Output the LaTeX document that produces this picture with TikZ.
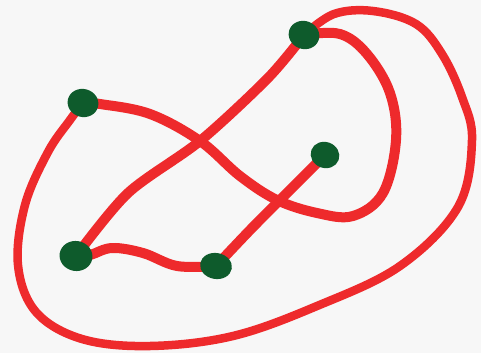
\documentclass[tikz,border=0pt]{standalone}
\usetikzlibrary{shapes.geometric}
\pgfdeclarelayer{bg}
\pgfsetlayers{bg,main}
\definecolor{pen}{HTML}{EE2A2C}
\definecolor{blob}{HTML}{0E5B2C}
\definecolor{paper}{HTML}{F7F7F7}
\begin{document}
\begin{tikzpicture}[x=1pt,y=-1pt,
  vertex/.style={ellipse,fill=blob,minimum width=31pt,minimum height=28pt,inner sep=0pt},
  stroke/.style={draw=pen,line width=10pt,line cap=round,line join=round},
  thin stroke/.style={draw=pen,line width=8.5pt,line cap=round,line join=round}]
\useasboundingbox (0,0) rectangle (481,353);
\node[vertex,rotate=-15] (A) at (83,103) {};
\node[vertex,rotate=-20] (B) at (304,35) {};
\node[vertex,rotate=-20,minimum width=29pt,minimum height=26pt] (C) at (325,155) {};
\node[vertex,rotate=-10,minimum width=33pt,minimum height=30pt] (D) at (76,256) {};
\node[vertex,rotate=-10,minimum width=32pt,minimum height=26pt] (E) at (216,266) {};
\begin{pgfonlayer}{bg}
\fill[paper] (0,0) rectangle (481,353);
% outer loop A -> B
\draw[thin stroke] plot[smooth,tension=0.6] coordinates {(A.center) (70,120) (48,152) (25,205) (18,265) (36,312) (82,339) (150,346) (233,336) (317,306) (400,266) (458,207) (472,140) (462,97) (442,54) (416,24) (373,11) (334,14) (B.center)};
% inner loop A -> B
\draw[stroke] plot[smooth,tension=0.6] coordinates {(A.center) (100,104) (150,114) (200,141) (240,176) (277,200) (317,213) (353,216) (383,193) (396,140) (390,93) (367,54) (340,34) (B.center)};
% B -> D
\draw[stroke] plot[smooth,tension=0.5] coordinates {(B.center) (268,78) (200,141) (128,193) (D.center)};
% D -> E
\draw[stroke] plot[smooth,tension=0.6] coordinates {(D.center) (90,255) (112,248) (143,253) (177,266) (E.center)};
% E -> C
\draw[stroke] plot[smooth,tension=0.5] coordinates {(E.center) (253,227) (300,180) (C.center)};
\end{pgfonlayer}
\end{tikzpicture}
\end{document}
